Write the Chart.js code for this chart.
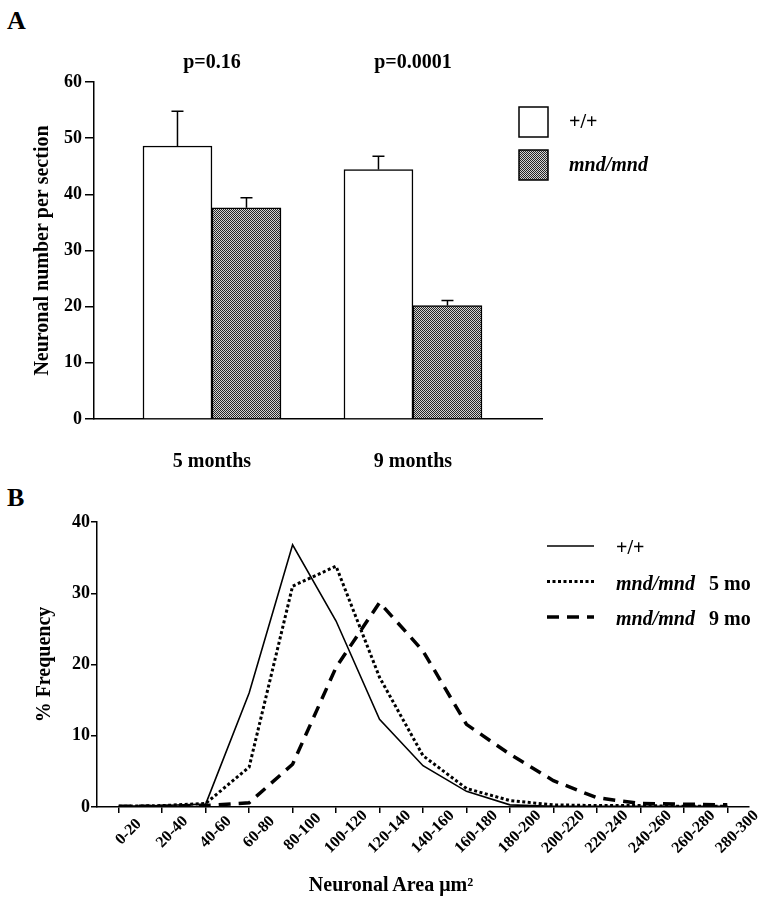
<!DOCTYPE html>
<html>
<head>
<meta charset="utf-8">
<title>Neuronal number and area</title>
<script src="https://cdn.jsdelivr.net/npm/chart.js@4.4.1/dist/chart.umd.min.js"></script>
<style>
    body { margin: 0; background: #fff; width: 767px; height: 900px; position: relative; overflow: hidden; font-family: 'Liberation Serif', serif; }
    .panel-letter { position: absolute; left: 7px; font-size: 26px; font-weight: bold; line-height: 1; }
    .wrap { position: absolute; left: 0; }
    #titleB { position: absolute; top: 874px; left: 391px; transform: translateX(-50%); font-size: 20px; font-weight: bold; line-height: 1; white-space: nowrap; }
</style>
</head>
<body>
<div class="panel-letter" style="top: 8px">A</div>
<div class="wrap" style="top: 0"><canvas id="chartA" width="767" height="480"></canvas></div>
<div class="panel-letter" style="top: 485px">B</div>
<div class="wrap" style="top: 480px"><canvas id="chartB" width="767" height="420"></canvas></div>
<div id="titleB">Neuronal Area μm²</div>
<script>
// panel A
const ages = ['5 months', '9 months'];
const pValues = ['p=0.16', 'p=0.0001'];
const wildType = [48.6, 44.4];
const wildTypeErr = [6.2, 2.4];
const mndMnd = [37.6, 20.2];
const mndMndErr = [1.8, 0.9];

// panel B
const areaBins = ['0-20', '20-40', '40-60', '60-80', '80-100', '100-120', '120-140', '140-160',
    '160-180', '180-200', '200-220', '220-240', '240-260', '260-280', '280-300'];
const freqWildType = [0.1, 0.2, 0.4, 16.0, 36.8, 26.1, 12.3, 5.8, 2.2, 0.3, 0.1, 0.1, 0.1, 0.1, 0.1];
const freqMnd5 = [0.1, 0.2, 0.5, 5.6, 31.0, 33.8, 18.2, 7.2, 2.6, 0.9, 0.3, 0.2, 0.2, 0.1, 0.1];
const freqMnd9 = [0.1, 0.1, 0.2, 0.6, 6.0, 19.6, 28.7, 21.9, 11.6, 7.4, 3.7, 1.3, 0.5, 0.4, 0.3];

Chart.defaults.font.family = "'Liberation Serif', serif";
Chart.defaults.font.weight = 'bold';
Chart.defaults.color = '#000';

function makeHatch() {
    const c = document.createElement('canvas');
    c.width = 2;
    c.height = 2;
    const g = c.getContext('2d');
    g.fillStyle = '#d4d4d4';
    g.fillRect(0, 0, 2, 2);
    g.fillStyle = '#262626';
    g.fillRect(0, 0, 1, 1);
    g.fillRect(1, 1, 1, 1);
    return g.createPattern(c, 'repeat');
}
const hatch = makeHatch();

const errors = [wildTypeErr, mndMndErr];

const errorBars = {
    id: 'errorBars',
    afterDatasetsDraw(chart) {
        const ctx = chart.ctx;
        const y = chart.scales.y;
        chart.data.datasets.forEach((ds, di) => {
            chart.getDatasetMeta(di).data.forEach((bar, i) => {
                const top = y.getPixelForValue(ds.data[i].y + errors[di][i]);
                ctx.save();
                ctx.strokeStyle = '#000';
                ctx.lineWidth = 1.5;
                ctx.beginPath();
                ctx.moveTo(bar.x, bar.y);
                ctx.lineTo(bar.x, top);
                ctx.moveTo(bar.x - 6, top);
                ctx.lineTo(bar.x + 6, top);
                ctx.stroke();
                ctx.restore();
            });
        });
    }
};

const pLabels = {
    id: 'pLabels',
    afterDraw(chart) {
        const ctx = chart.ctx;
        ctx.save();
        ctx.font = "bold 20px 'Liberation Serif'";
        ctx.fillStyle = '#000';
        ctx.textAlign = 'center';
        ctx.textBaseline = 'middle';
        pValues.forEach((p, i) => {
            ctx.fillText(p, chart.scales.x.getPixelForValue(i + 1), 63);
        });
        ctx.restore();
    }
};

// rotated bin labels, centred a little right of each tick like the original
const binLabels = {
    id: 'binLabels',
    afterDraw(chart) {
        const ctx = chart.ctx;
        const x = chart.scales.x;
        ctx.save();
        ctx.font = "bold 16px 'Liberation Serif'";
        ctx.fillStyle = '#000';
        ctx.textAlign = 'center';
        ctx.textBaseline = 'middle';
        areaBins.forEach((b, i) => {
            ctx.save();
            ctx.translate(x.getPixelForTick(i) + 10, x.top + 25);
            ctx.rotate(-Math.PI / 4);
            ctx.fillText(b, 0, 0);
            ctx.restore();
        });
        ctx.restore();
    }
};

function drawLabel(ctx, label, x, y) {
    // genotype name in italics, the rest upright
    if (label.startsWith('mnd/mnd')) {
        ctx.font = "italic bold 20px 'Liberation Serif'";
        ctx.fillText('mnd/mnd', x, y);
        ctx.font = "bold 20px 'Liberation Serif'";
        const rest = label.slice(7).trim();
        if (rest) ctx.fillText(rest, x + 93, y);
    } else {
        ctx.font = "bold 20px 'Liberation Serif'";
        ctx.fillText(label, x, y);
    }
}

const legendA = {
    id: 'legendA',
    afterDraw(chart) {
        const ctx = chart.ctx;
        ctx.save();
        chart.data.datasets.forEach((ds, i) => {
            const top = 107 + i * 43;
            ctx.fillStyle = ds.backgroundColor;
            ctx.fillRect(519, top, 29, 30);
            ctx.strokeStyle = '#000';
            ctx.lineWidth = 1.5;
            ctx.strokeRect(519, top, 29, 30);
            ctx.fillStyle = '#000';
            ctx.textBaseline = 'middle';
            ctx.textAlign = 'left';
            drawLabel(ctx, ds.label, 569, top + 16);
        });
        ctx.restore();
    }
};

const legendB = {
    id: 'legendB',
    afterDraw(chart) {
        const ctx = chart.ctx;
        ctx.save();
        chart.data.datasets.forEach((ds, i) => {
            const y = 66 + i * 35.5;
            ctx.strokeStyle = '#000';
            ctx.lineWidth = ds.borderWidth;
            ctx.setLineDash(ds.borderDash || []);
            ctx.beginPath();
            ctx.moveTo(547, y);
            ctx.lineTo(594, y);
            ctx.stroke();
            ctx.setLineDash([]);
            ctx.fillStyle = '#000';
            ctx.textBaseline = 'middle';
            ctx.textAlign = 'left';
            drawLabel(ctx, ds.label, 616, y + 3);
        });
        ctx.restore();
    }
};

new Chart(document.getElementById('chartA'), {
    type: 'bar',
    data: {
        datasets: [{
            label: '+/+',
            data: ages.map((a, i) => ({x: i + 1, y: wildType[i]})),
            backgroundColor: '#fff',
            borderColor: '#000',
            borderWidth: 1.5,
            barThickness: 69
        }, {
            label: 'mnd/mnd',
            data: ages.map((a, i) => ({x: i + 1, y: mndMnd[i]})),
            backgroundColor: hatch,
            borderColor: '#000',
            borderWidth: 1.5,
            barThickness: 69
        }]
    },
    options: {
        responsive: false,
        animation: false,
        layout: {padding: {top: 82, right: 225, left: 0, bottom: 0}},
        plugins: {legend: {display: false}, tooltip: {enabled: false}},
        scales: {
            x: {
                type: 'linear',
                min: 0.413,
                max: 2.642,
                offset: false,
                grid: {display: false},
                border: {color: '#000', width: 1.5},
                afterBuildTicks: (s) => { s.ticks = ages.map((a, i) => ({value: i + 1})); },
                afterFit: (s) => { s.height = 61; },
                ticks: {
                    padding: 23,
                    font: {size: 20, weight: 'bold'},
                    callback: (v) => ages[v - 1]
                }
            },
            y: {
                min: 0,
                max: 60,
                ticks: {stepSize: 10, padding: 3, font: {size: 18, weight: 'bold'}},
                grid: {drawOnChartArea: false, tickLength: 9, color: '#000', lineWidth: 1.5},
                border: {color: '#000', width: 1.5},
                afterFit: (s) => { s.width = 94; },
                title: {
                    display: true,
                    text: 'Neuronal number per section',
                    font: {size: 20, weight: 'bold'},
                    padding: {top: 31, bottom: 0}
                }
            }
        }
    },
    plugins: [errorBars, pLabels, legendA]
});

new Chart(document.getElementById('chartB'), {
    type: 'line',
    data: {
        labels: areaBins,
        datasets: [{
            label: '+/+',
            data: freqWildType,
            borderColor: '#000',
            borderWidth: 1.6,
            borderDash: [],
            pointRadius: 0,
            tension: 0
        }, {
            label: 'mnd/mnd 5 mo',
            data: freqMnd5,
            borderColor: '#000',
            borderWidth: 3,
            borderDash: [3, 2.5],
            pointRadius: 0,
            tension: 0
        }, {
            label: 'mnd/mnd 9 mo',
            data: freqMnd9,
            borderColor: '#000',
            borderWidth: 3.5,
            borderDash: [12, 8],
            pointRadius: 0,
            tension: 0
        }]
    },
    options: {
        responsive: false,
        animation: false,
        layout: {padding: {top: 42, right: 18, left: 0, bottom: 0}},
        plugins: {legend: {display: false}, tooltip: {enabled: false}},
        scales: {
            x: {
                offset: true,
                grid: {offset: false, drawOnChartArea: false, tickLength: 6, color: '#000', lineWidth: 1.5},
                border: {color: '#000', width: 1.5},
                ticks: {autoSkip: false, display: false},
                afterFit: (s) => { s.height = 93; }
            },
            y: {
                min: 0,
                max: 40,
                ticks: {stepSize: 10, padding: 1, font: {size: 18, weight: 'bold'}},
                grid: {drawOnChartArea: false, tickLength: 6, color: '#000', lineWidth: 1.5},
                border: {color: '#000', width: 1.5},
                afterFit: (s) => { s.width = 97; },
                title: {
                    display: true,
                    text: '% Frequency',
                    font: {size: 20, weight: 'bold'},
                    padding: {top: 33, bottom: 0}
                }
            }
        }
    },
    plugins: [binLabels, legendB]
});
</script>
</body>
</html>
